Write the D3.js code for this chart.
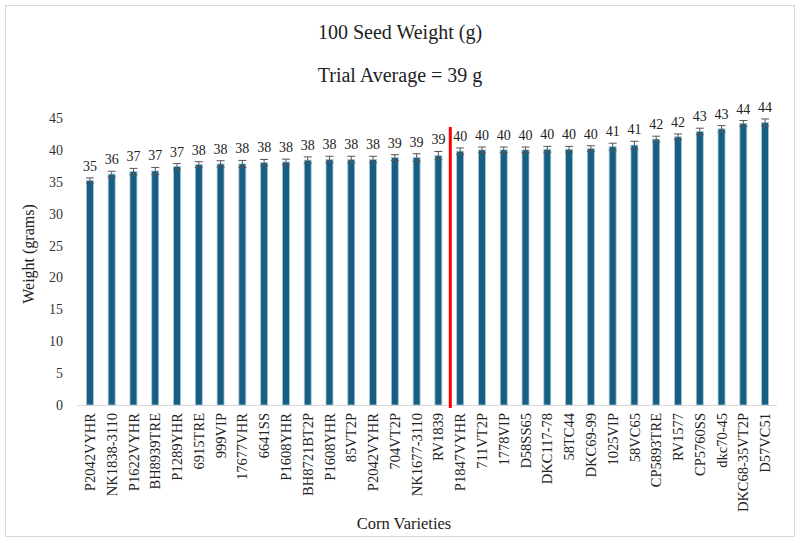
<!DOCTYPE html>
<html><head><meta charset="utf-8">
<script src="https://cdn.jsdelivr.net/npm/d3@7"></script>
<style>body{margin:0;background:#fff}svg{display:block}text{font-family:"Liberation Serif","Times New Roman",serif}</style>
</head><body>
<svg id="c" width="800" height="543"></svg>
<script>
const categories = ["P2042VYHR","NK1838-3110","P1622VYHR","BH8939TRE","P1289YHR","6915TRE","999VIP","17677VHR","6641SS","P1608YHR","BH8721BT2P","P1608YHR","85VT2P","P2042VYHR","704VT2P","NK1677-3110","RV1839","P1847VYHR","711VT2P","1778VIP","D58SS65","DKC117-78","58TC44","DKC69-99","1025VIP","58VC65","CP5893TRE","RV1577","CP5760SS","dkc70-45","DKC68-35VT2P","D57VC51"];
const values = [35.2,36.2,36.6,36.7,37.4,37.7,37.8,37.8,38.0,38.1,38.4,38.5,38.5,38.5,38.8,38.8,39.1,39.8,40.0,40.0,40.0,40.1,40.1,40.2,40.5,40.75,41.7,42.05,42.9,43.3,44.15,44.3];
const errors = [0.4,0.45,0.5,0.55,0.45,0.45,0.5,0.55,0.5,0.45,0.5,0.5,0.5,0.5,0.45,0.6,0.65,0.5,0.45,0.45,0.45,0.45,0.45,0.45,0.55,0.6,0.45,0.45,0.5,0.5,0.45,0.55];
const labels = ["35","36","37","37","37","38","38","38","38","38","38","38","38","38","39","39","39","40","40","40","40","40","40","40","41","41","42","42","43","43","44","44"];
const yTicks = [0,5,10,15,20,25,30,35,40,45];
const trialAverageAfter = "RV1839";

const svg = d3.select("#c");
svg.append("rect").attr("x",5.5).attr("y",5.5).attr("width",789).attr("height",531)
  .attr("fill","#fff").attr("stroke","#d9d9d9");

const x = d3.scaleBand().domain(d3.range(categories.length)).range([79,776]).paddingInner(0.68).paddingOuter(0.34);
const y = d3.scaleLinear().domain([0,45]).range([405,118]);

svg.append("text").attr("x",400).attr("y",39).attr("text-anchor","middle").attr("font-size",20).attr("fill","#222").text("100 Seed Weight (g)");
svg.append("text").attr("x",400).attr("y",82).attr("text-anchor","middle").attr("font-size",20).attr("fill","#222").text("Trial Average = 39 g");

// y axis ticks
const ya = svg.append("g").attr("transform","translate(71,0)")
  .call(d3.axisLeft(y).tickValues(yTicks).tickSize(0).tickPadding(8));
ya.select(".domain").remove();
ya.selectAll("text").attr("font-family","Liberation Serif").attr("font-size",14).attr("fill","#333");

svg.append("text").attr("transform","translate(34,254) rotate(-90)").attr("text-anchor","middle")
  .attr("font-size",16).attr("fill","#222").text("Weight (grams)");

// baseline
svg.append("line").attr("x1",77).attr("x2",777).attr("y1",y(0)+0.5).attr("y2",y(0)+0.5).attr("stroke","#d9d9d9").attr("stroke-width",1);

// bars
svg.append("g").selectAll("rect").data(values).join("rect")
  .attr("x",(d,i)=>x(i)).attr("width",x.bandwidth())
  .attr("y",d=>y(d)).attr("height",d=>y(0)-y(d))
  .attr("fill","#165f82").attr("stroke","#a8c9da").attr("stroke-width",0.8);

// error bars
const eb = svg.append("g").attr("stroke","#555").attr("stroke-width",1);
values.forEach((v,i)=>{
  const cx = x(i)+x.bandwidth()/2;
  const e = errors[i];
  eb.append("line").attr("x1",cx).attr("x2",cx).attr("y1",y(v+e)).attr("y2",y(v-e));
  eb.append("line").attr("x1",cx-4).attr("x2",cx+4).attr("y1",y(v+e)).attr("y2",y(v+e));
  eb.append("line").attr("x1",cx-4).attr("x2",cx+4).attr("y1",y(v-e)).attr("y2",y(v-e));
});

// data labels
svg.append("g").selectAll("text").data(values).join("text")
  .attr("x",(d,i)=>x(i)+x.bandwidth()/2).attr("y",(d,i)=>y(d+errors[i])-7)
  .attr("text-anchor","middle").attr("font-size",14).attr("fill","#222")
  .text((d,i)=>labels[i]);

// x labels
const xa = svg.append("g").attr("transform",`translate(0,${y(0)})`)
  .call(d3.axisBottom(x).tickFormat(i=>categories[i]).tickSize(0).tickPadding(0));
xa.select(".domain").remove();
xa.selectAll("text").attr("font-family","Liberation Serif").attr("font-size",14.5).attr("fill","#222")
  .attr("text-anchor","end").attr("transform","rotate(-90)").attr("x",-8).attr("y",0).attr("dy","0.35em");

svg.append("text").attr("x",404).attr("y",529).attr("text-anchor","middle").attr("font-size",16.5).attr("fill","#222").text("Corn Varieties");

// red trial average divider
const idx = categories.indexOf(trialAverageAfter);
const rx = (x(idx)+x.bandwidth()/2 + x(idx+1)+x.bandwidth()/2)/2 + 1;
svg.append("line").attr("x1",rx).attr("x2",rx).attr("y1",127).attr("y2",408).attr("stroke","#ff0000").attr("stroke-width",3);
</script>
</body></html>
